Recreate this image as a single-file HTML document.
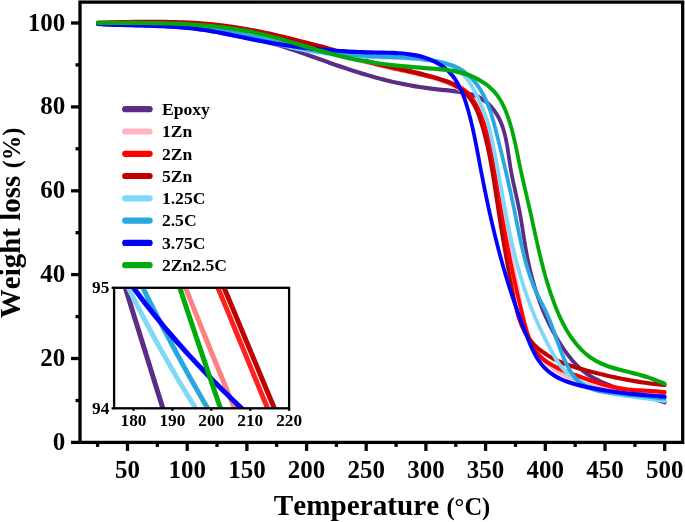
<!DOCTYPE html>
<html><head><meta charset="utf-8"><title>TGA</title>
<style>
html,body{margin:0;padding:0;background:#fff;}
body{width:685px;height:522px;position:relative;overflow:hidden;font-family:"Liberation Serif",serif;}
</style></head><body>
<svg width="685" height="522" viewBox="0 0 685 522" style="position:absolute;left:0;top:0;display:block;will-change:transform;opacity:0.999">
<rect x="0" y="0" width="685" height="522" fill="#fff"/>
<g fill="none" stroke-width="3.75" stroke-linecap="round" stroke-linejoin="round" transform="scale(1,1.12)">
<path stroke="#5B2D86" d="M97.80,21.16C98.80,21.21 101.81,21.37 103.82,21.46C105.82,21.55 107.83,21.63 109.84,21.70C111.85,21.77 113.86,21.84 115.88,21.90C117.89,21.96 119.90,22.01 121.92,22.07C123.93,22.12 125.95,22.16 127.96,22.21C129.98,22.26 131.99,22.30 134.01,22.34C136.03,22.38 138.04,22.43 140.06,22.47C142.08,22.52 144.09,22.56 146.11,22.61C148.13,22.66 150.14,22.71 152.16,22.77C154.17,22.83 156.19,22.89 158.20,22.96C160.21,23.03 162.23,23.10 164.24,23.19C166.25,23.27 168.26,23.36 170.27,23.47C172.28,23.57 174.29,23.68 176.29,23.81C178.30,23.93 180.31,24.07 182.31,24.22C184.31,24.37 186.31,24.54 188.31,24.72C190.31,24.90 192.30,25.10 194.30,25.31C196.29,25.53 198.28,25.76 200.27,26.01C202.25,26.26 204.24,26.53 206.22,26.82C208.20,27.10 210.18,27.42 212.16,27.73C214.14,28.05 216.12,28.39 218.09,28.72C220.07,29.06 222.05,29.41 224.03,29.75C226.00,30.09 227.98,30.44 229.97,30.77C231.95,31.11 233.94,31.44 235.92,31.76C237.91,32.09 239.90,32.40 241.89,32.72C243.88,33.04 245.87,33.35 247.85,33.69C249.84,34.02 251.82,34.36 253.79,34.72C255.77,35.09 257.73,35.47 259.69,35.87C261.65,36.28 263.60,36.70 265.55,37.14C267.49,37.58 269.43,38.04 271.37,38.52C273.30,38.99 275.23,39.49 277.15,39.99C279.07,40.50 280.99,41.02 282.91,41.55C284.82,42.08 286.73,42.63 288.64,43.18C290.55,43.73 292.45,44.30 294.35,44.87C296.25,45.45 298.15,46.03 300.05,46.62C301.95,47.20 303.84,47.80 305.74,48.40C307.63,49.00 309.53,49.60 311.42,50.21C313.32,50.81 315.21,51.42 317.11,52.03C319.00,52.64 320.90,53.25 322.79,53.86C324.69,54.47 326.59,55.08 328.49,55.69C330.39,56.29 332.29,56.89 334.20,57.49C336.11,58.09 338.02,58.68 339.93,59.26C341.84,59.85 343.76,60.43 345.67,61.00C347.59,61.57 349.51,62.14 351.44,62.70C353.36,63.25 355.28,63.80 357.21,64.34C359.14,64.88 361.07,65.42 363.00,65.94C364.94,66.46 366.87,66.97 368.81,67.48C370.74,67.98 372.68,68.47 374.62,68.95C376.56,69.43 378.51,69.90 380.45,70.35C382.39,70.81 384.34,71.25 386.29,71.68C388.23,72.11 390.18,72.53 392.13,72.93C394.08,73.33 396.03,73.72 397.98,74.10C399.93,74.47 401.88,74.83 403.84,75.17C405.79,75.51 407.74,75.84 409.70,76.15C411.66,76.47 413.62,76.77 415.59,77.06C417.56,77.34 419.53,77.62 421.51,77.88C423.49,78.14 425.48,78.40 427.48,78.64C429.47,78.88 431.48,79.11 433.49,79.33C435.50,79.55 437.53,79.76 439.57,79.96C441.60,80.16 443.66,80.35 445.71,80.54C447.77,80.73 449.85,80.90 451.91,81.11C453.97,81.31 456.04,81.52 458.08,81.78C460.12,82.04 462.15,82.32 464.14,82.67C466.13,83.02 468.10,83.41 470.02,83.89C471.93,84.37 473.81,84.91 475.62,85.56C477.43,86.21 479.19,86.93 480.87,87.79C482.55,88.64 484.16,89.62 485.69,90.69C487.21,91.76 488.67,92.95 490.03,94.22C491.39,95.48 492.68,96.84 493.87,98.26C495.06,99.67 496.17,101.17 497.18,102.69C498.20,104.22 499.11,105.80 499.95,107.41C500.79,109.02 501.53,110.68 502.21,112.36C502.89,114.03 503.49,115.75 504.04,117.48C504.60,119.21 505.08,120.97 505.53,122.74C505.98,124.52 506.38,126.31 506.75,128.12C507.13,129.92 507.46,131.74 507.78,133.55C508.11,135.37 508.40,137.20 508.70,139.02C509.00,140.84 509.29,142.67 509.59,144.48C509.90,146.30 510.20,148.11 510.53,149.90C510.86,151.69 511.21,153.47 511.58,155.23C511.95,157.00 512.35,158.75 512.75,160.49C513.15,162.23 513.57,163.97 514.00,165.70C514.42,167.43 514.86,169.15 515.29,170.87C515.72,172.59 516.16,174.31 516.58,176.03C517.01,177.75 517.44,179.48 517.85,181.21C518.27,182.94 518.67,184.67 519.06,186.41C519.45,188.16 519.82,189.91 520.17,191.67C520.53,193.43 520.87,195.20 521.20,196.98C521.54,198.76 521.86,200.54 522.18,202.32C522.50,204.11 522.81,205.90 523.12,207.69C523.44,209.48 523.75,211.28 524.07,213.07C524.39,214.86 524.71,216.65 525.04,218.44C525.37,220.23 525.71,222.02 526.07,223.80C526.43,225.59 526.80,227.36 527.18,229.14C527.57,230.91 527.97,232.68 528.40,234.44C528.82,236.20 529.26,237.95 529.72,239.70C530.17,241.45 530.65,243.19 531.14,244.93C531.64,246.66 532.15,248.39 532.69,250.12C533.22,251.84 533.78,253.56 534.35,255.27C534.93,256.98 535.52,258.68 536.14,260.38C536.75,262.08 537.39,263.77 538.05,265.45C538.71,267.14 539.39,268.81 540.10,270.49C540.80,272.16 541.53,273.82 542.28,275.48C543.03,277.13 543.81,278.78 544.60,280.42C545.40,282.07 546.23,283.70 547.07,285.33C547.92,286.96 548.80,288.58 549.70,290.19C550.59,291.80 551.52,293.41 552.47,295.01C553.42,296.60 554.40,298.19 555.41,299.77C556.41,301.35 557.44,302.92 558.51,304.47C559.57,306.02 560.65,307.57 561.77,309.09C562.89,310.61 564.04,312.13 565.22,313.61C566.40,315.10 567.61,316.57 568.86,317.99C570.11,319.42 571.40,320.82 572.72,322.18C574.05,323.53 575.41,324.85 576.83,326.11C578.24,327.37 579.69,328.59 581.19,329.74C582.69,330.90 584.25,331.99 585.84,333.03C587.43,334.06 589.08,335.04 590.75,335.97C592.43,336.90 594.15,337.77 595.90,338.61C597.65,339.44 599.44,340.23 601.26,340.98C603.07,341.73 604.92,342.43 606.78,343.11C608.65,343.79 610.54,344.43 612.45,345.04C614.36,345.66 616.29,346.24 618.23,346.81C620.17,347.38 622.13,347.92 624.09,348.45C626.05,348.98 628.03,349.49 630.00,349.99C631.97,350.49 633.95,350.98 635.92,351.47C637.89,351.96 639.87,352.44 641.83,352.93C643.79,353.41 645.75,353.90 647.69,354.39C649.64,354.89 651.57,355.39 653.48,355.90C655.39,356.42 657.29,356.94 659.16,357.49C661.03,358.04 663.78,358.91 664.70,359.20"/>
<path stroke="#FFB6C1" d="M97.80,20.61C98.82,20.60 101.87,20.56 103.90,20.54C105.94,20.52 107.97,20.50 110.00,20.48C112.04,20.46 114.08,20.44 116.11,20.42C118.15,20.40 120.18,20.38 122.22,20.37C124.26,20.36 126.29,20.34 128.33,20.33C130.37,20.33 132.40,20.32 134.44,20.31C136.48,20.31 138.51,20.31 140.55,20.32C142.59,20.32 144.62,20.33 146.66,20.34C148.70,20.35 150.73,20.37 152.77,20.39C154.81,20.41 156.84,20.44 158.88,20.47C160.92,20.50 162.95,20.54 164.99,20.59C167.02,20.63 169.06,20.68 171.09,20.74C173.12,20.80 175.16,20.86 177.19,20.94C179.23,21.01 181.26,21.09 183.29,21.17C185.32,21.26 187.35,21.36 189.38,21.46C191.41,21.57 193.44,21.68 195.47,21.80C197.50,21.92 199.53,22.05 201.56,22.20C203.59,22.34 205.61,22.49 207.64,22.65C209.66,22.81 211.69,22.98 213.71,23.17C215.73,23.35 217.76,23.54 219.78,23.75C221.80,23.95 223.82,24.17 225.84,24.40C227.85,24.63 229.87,24.87 231.89,25.12C233.90,25.38 235.92,25.64 237.93,25.92C239.94,26.20 241.96,26.50 243.97,26.81C245.98,27.11 247.99,27.43 249.99,27.77C251.99,28.12 253.99,28.47 255.98,28.87C257.97,29.26 259.96,29.67 261.93,30.13C263.89,30.58 265.85,31.08 267.80,31.59C269.75,32.10 271.68,32.65 273.62,33.19C275.56,33.74 277.49,34.31 279.42,34.87C281.35,35.42 283.28,35.99 285.22,36.54C287.16,37.08 289.10,37.62 291.05,38.15C292.99,38.67 294.95,39.19 296.90,39.69C298.85,40.20 300.81,40.69 302.77,41.18C304.73,41.67 306.70,42.15 308.66,42.62C310.63,43.09 312.60,43.56 314.57,44.02C316.54,44.48 318.51,44.94 320.48,45.40C322.45,45.85 324.43,46.30 326.40,46.75C328.37,47.20 330.35,47.64 332.32,48.09C334.30,48.54 336.27,48.98 338.25,49.43C340.22,49.88 342.19,50.33 344.16,50.77C346.14,51.22 348.11,51.66 350.08,52.11C352.06,52.55 354.03,53.00 356.00,53.44C357.97,53.88 359.95,54.32 361.92,54.76C363.90,55.20 365.87,55.63 367.85,56.07C369.82,56.50 371.80,56.93 373.77,57.35C375.75,57.78 377.73,58.20 379.71,58.62C381.69,59.04 383.67,59.45 385.65,59.86C387.63,60.27 389.61,60.68 391.60,61.07C393.58,61.47 395.57,61.87 397.56,62.26C399.55,62.64 401.54,63.02 403.53,63.40C405.52,63.78 407.52,64.15 409.51,64.54C411.50,64.92 413.49,65.30 415.48,65.69C417.47,66.09 419.46,66.49 421.44,66.92C423.42,67.34 425.40,67.78 427.37,68.24C429.34,68.71 431.31,69.19 433.27,69.72C435.23,70.24 437.18,70.78 439.12,71.37C441.06,71.96 443.00,72.57 444.91,73.25C446.81,73.92 448.72,74.63 450.56,75.40C452.40,76.18 454.22,77.00 455.96,77.90C457.70,78.80 459.40,79.76 461.00,80.81C462.61,81.86 464.15,82.97 465.58,84.19C467.00,85.40 468.34,86.71 469.57,88.10C470.80,89.49 471.92,90.99 472.97,92.54C474.02,94.08 474.97,95.71 475.89,97.36C476.80,99.01 477.63,100.73 478.44,102.44C479.25,104.16 480.00,105.91 480.75,107.64C481.51,109.37 482.24,111.11 482.95,112.83C483.66,114.55 484.36,116.26 485.02,117.97C485.68,119.69 486.31,121.40 486.90,123.12C487.49,124.84 488.03,126.56 488.56,128.29C489.08,130.02 489.56,131.75 490.03,133.49C490.50,135.23 490.93,136.98 491.36,138.73C491.79,140.48 492.19,142.24 492.59,144.01C492.99,145.77 493.38,147.54 493.76,149.32C494.15,151.10 494.53,152.89 494.91,154.68C495.29,156.47 495.67,158.27 496.05,160.08C496.43,161.88 496.81,163.69 497.19,165.50C497.57,167.30 497.95,169.12 498.33,170.93C498.71,172.74 499.09,174.55 499.47,176.36C499.85,178.17 500.24,179.97 500.62,181.78C501.01,183.58 501.39,185.38 501.78,187.17C502.17,188.96 502.56,190.75 502.95,192.53C503.35,194.31 503.74,196.08 504.14,197.85C504.53,199.63 504.93,201.39 505.33,203.15C505.73,204.92 506.13,206.68 506.53,208.43C506.94,210.19 507.34,211.95 507.74,213.70C508.15,215.46 508.55,217.21 508.95,218.96C509.36,220.71 509.76,222.47 510.17,224.22C510.57,225.97 510.97,227.73 511.38,229.48C511.78,231.24 512.19,233.00 512.59,234.76C512.99,236.52 513.39,238.29 513.79,240.06C514.19,241.82 514.59,243.60 514.99,245.38C515.38,247.15 515.78,248.94 516.17,250.73C516.57,252.52 516.96,254.31 517.35,256.11C517.74,257.92 518.12,259.73 518.51,261.55C518.89,263.36 519.27,265.19 519.66,267.03C520.04,268.86 520.42,270.70 520.82,272.53C521.22,274.37 521.62,276.21 522.05,278.04C522.48,279.87 522.92,281.69 523.39,283.51C523.86,285.32 524.36,287.12 524.89,288.90C525.43,290.68 525.99,292.45 526.60,294.20C527.21,295.94 527.86,297.66 528.56,299.35C529.27,301.04 530.02,302.71 530.83,304.34C531.64,305.97 532.51,307.57 533.45,309.12C534.39,310.68 535.39,312.20 536.47,313.67C537.55,315.14 538.69,316.57 539.93,317.95C541.17,319.33 542.48,320.65 543.89,321.93C545.29,323.20 546.79,324.42 548.34,325.58C549.89,326.75 551.53,327.86 553.20,328.93C554.87,329.99 556.61,331.00 558.37,331.97C560.13,332.93 561.95,333.85 563.77,334.72C565.58,335.59 567.43,336.41 569.29,337.19C571.15,337.97 573.02,338.70 574.91,339.39C576.79,340.09 578.69,340.74 580.61,341.35C582.52,341.97 584.45,342.54 586.39,343.09C588.32,343.63 590.27,344.14 592.23,344.61C594.19,345.09 596.16,345.54 598.14,345.95C600.12,346.37 602.10,346.76 604.10,347.12C606.09,347.49 608.09,347.83 610.10,348.15C612.10,348.46 614.12,348.76 616.13,349.04C618.15,349.31 620.17,349.57 622.20,349.82C624.22,350.06 626.25,350.29 628.28,350.50C630.31,350.72 632.34,350.92 634.37,351.12C636.40,351.31 638.44,351.49 640.47,351.67C642.50,351.85 644.53,352.03 646.55,352.20C648.58,352.37 650.61,352.54 652.63,352.71C654.65,352.88 656.67,353.04 658.68,353.22C660.69,353.39 663.70,353.66 664.70,353.75"/>
<path stroke="#FF0000" d="M97.80,20.80C98.81,20.78 101.86,20.71 103.89,20.66C105.92,20.61 107.95,20.57 109.98,20.53C112.02,20.48 114.05,20.44 116.08,20.40C118.12,20.36 120.15,20.32 122.19,20.29C124.23,20.25 126.26,20.22 128.30,20.20C130.34,20.17 132.37,20.14 134.41,20.12C136.45,20.10 138.49,20.08 140.53,20.07C142.57,20.06 144.61,20.05 146.64,20.05C148.68,20.05 150.72,20.05 152.76,20.06C154.80,20.07 156.84,20.08 158.88,20.10C160.92,20.12 162.96,20.15 165.00,20.18C167.03,20.21 169.07,20.25 171.11,20.30C173.15,20.35 175.19,20.40 177.22,20.47C179.26,20.53 181.29,20.60 183.33,20.68C185.37,20.76 187.40,20.84 189.43,20.94C191.47,21.04 193.50,21.14 195.53,21.26C197.56,21.37 199.59,21.50 201.62,21.63C203.65,21.77 205.68,21.91 207.71,22.07C209.73,22.22 211.76,22.39 213.78,22.57C215.81,22.74 217.83,22.93 219.85,23.13C221.87,23.33 223.89,23.55 225.91,23.77C227.93,24.00 229.94,24.23 231.95,24.48C233.97,24.73 235.98,25.00 237.99,25.27C240.00,25.55 242.01,25.84 244.01,26.14C246.02,26.45 248.02,26.77 250.02,27.10C252.02,27.43 254.02,27.78 256.02,28.14C258.01,28.50 260.01,28.88 262.00,29.27C263.99,29.66 265.98,30.06 267.97,30.47C269.95,30.88 271.94,31.31 273.92,31.73C275.91,32.16 277.89,32.60 279.87,33.04C281.85,33.49 283.83,33.94 285.80,34.39C287.78,34.84 289.75,35.29 291.73,35.75C293.70,36.20 295.68,36.66 297.65,37.11C299.62,37.57 301.59,38.02 303.56,38.47C305.53,38.92 307.50,39.36 309.47,39.80C311.44,40.24 313.41,40.67 315.38,41.11C317.34,41.55 319.31,41.98 321.27,42.44C323.23,42.90 325.19,43.36 327.14,43.86C329.09,44.35 331.03,44.88 332.97,45.42C334.92,45.97 336.85,46.55 338.78,47.12C340.72,47.70 342.65,48.30 344.58,48.88C346.52,49.46 348.45,50.04 350.39,50.60C352.33,51.16 354.27,51.71 356.21,52.24C358.16,52.76 360.11,53.27 362.06,53.77C364.01,54.27 365.97,54.75 367.93,55.22C369.88,55.69 371.85,56.14 373.81,56.59C375.77,57.04 377.74,57.47 379.71,57.90C381.68,58.33 383.65,58.75 385.63,59.17C387.60,59.58 389.58,59.99 391.56,60.40C393.54,60.80 395.52,61.20 397.50,61.60C399.48,62.00 401.47,62.40 403.45,62.80C405.44,63.19 407.43,63.59 409.41,63.99C411.40,64.39 413.39,64.79 415.38,65.20C417.37,65.60 419.37,66.01 421.36,66.43C423.35,66.84 425.35,67.26 427.34,67.70C429.33,68.13 431.32,68.57 433.31,69.04C435.29,69.51 437.27,69.99 439.24,70.51C441.20,71.03 443.16,71.57 445.10,72.17C447.03,72.76 448.96,73.39 450.85,74.08C452.75,74.76 454.64,75.49 456.46,76.30C458.28,77.11 460.07,77.98 461.75,78.95C463.44,79.93 465.06,80.98 466.54,82.15C468.03,83.33 469.39,84.63 470.65,86.01C471.91,87.40 473.03,88.91 474.10,90.44C475.16,91.97 476.13,93.59 477.06,95.19C477.98,96.80 478.85,98.44 479.67,100.08C480.49,101.73 481.25,103.40 481.97,105.09C482.70,106.77 483.37,108.47 484.01,110.19C484.64,111.90 485.24,113.63 485.80,115.37C486.36,117.12 486.88,118.87 487.38,120.63C487.88,122.40 488.34,124.17 488.78,125.95C489.23,127.73 489.64,129.53 490.04,131.32C490.45,133.11 490.82,134.92 491.19,136.72C491.56,138.52 491.91,140.33 492.26,142.14C492.61,143.95 492.94,145.76 493.28,147.57C493.61,149.38 493.94,151.19 494.28,153.00C494.61,154.81 494.95,156.61 495.28,158.42C495.62,160.22 495.95,162.02 496.29,163.82C496.62,165.62 496.96,167.42 497.30,169.22C497.64,171.01 497.98,172.81 498.32,174.60C498.66,176.40 499.00,178.19 499.35,179.98C499.69,181.77 500.03,183.56 500.38,185.35C500.73,187.14 501.08,188.93 501.43,190.71C501.78,192.50 502.14,194.28 502.49,196.07C502.85,197.85 503.21,199.64 503.57,201.42C503.93,203.20 504.29,204.98 504.66,206.76C505.03,208.54 505.40,210.32 505.77,212.10C506.14,213.88 506.52,215.66 506.90,217.44C507.28,219.22 507.66,220.99 508.05,222.77C508.44,224.55 508.83,226.32 509.22,228.10C509.62,229.88 510.01,231.65 510.42,233.43C510.82,235.20 511.22,236.98 511.64,238.75C512.05,240.53 512.46,242.30 512.88,244.08C513.30,245.85 513.73,247.63 514.16,249.40C514.59,251.18 515.02,252.95 515.46,254.73C515.90,256.51 516.35,258.28 516.80,260.06C517.25,261.83 517.70,263.61 518.17,265.39C518.63,267.16 519.10,268.94 519.57,270.72C520.04,272.49 520.52,274.27 521.01,276.05C521.49,277.83 521.98,279.61 522.48,281.39C522.98,283.17 523.48,284.95 524.00,286.73C524.51,288.51 525.02,290.30 525.56,292.07C526.11,293.84 526.66,295.61 527.28,297.35C527.90,299.09 528.54,300.81 529.27,302.49C530.00,304.16 530.78,305.82 531.66,307.41C532.55,309.00 533.50,310.56 534.59,312.04C535.67,313.51 536.85,314.94 538.16,316.29C539.48,317.63 540.94,318.90 542.48,320.09C544.02,321.29 545.69,322.40 547.38,323.43C549.07,324.47 550.84,325.41 552.63,326.31C554.42,327.20 556.27,328.01 558.13,328.79C559.99,329.58 561.90,330.29 563.81,330.99C565.72,331.70 567.65,332.35 569.58,333.00C571.51,333.66 573.45,334.29 575.38,334.92C577.31,335.55 579.23,336.18 581.15,336.80C583.08,337.42 584.99,338.03 586.91,338.63C588.83,339.22 590.75,339.81 592.67,340.38C594.59,340.94 596.51,341.50 598.44,342.03C600.36,342.55 602.29,343.06 604.23,343.54C606.17,344.02 608.12,344.48 610.08,344.90C612.03,345.32 614.00,345.72 615.98,346.07C617.96,346.43 619.95,346.75 621.95,347.03C623.96,347.31 625.98,347.55 628.02,347.76C630.05,347.96 632.11,348.12 634.16,348.26C636.22,348.40 638.29,348.51 640.35,348.61C642.41,348.72 644.48,348.80 646.54,348.90C648.60,349.00 650.66,349.08 652.69,349.20C654.73,349.32 656.76,349.44 658.76,349.60C660.76,349.76 663.71,350.08 664.70,350.18"/>
<path stroke="#C00000" d="M97.80,20.18C98.81,20.16 101.84,20.12 103.85,20.08C105.87,20.05 107.89,20.02 109.91,19.98C111.93,19.95 113.95,19.91 115.97,19.88C117.99,19.85 120.01,19.81 122.03,19.78C124.05,19.75 126.07,19.71 128.09,19.69C130.11,19.66 132.13,19.63 134.15,19.60C136.17,19.58 138.19,19.56 140.21,19.54C142.23,19.52 144.25,19.51 146.27,19.50C148.29,19.49 150.31,19.48 152.33,19.48C154.35,19.48 156.36,19.49 158.38,19.50C160.40,19.51 162.42,19.52 164.44,19.55C166.46,19.57 168.48,19.60 170.50,19.64C172.51,19.68 174.53,19.72 176.55,19.78C178.57,19.83 180.58,19.89 182.60,19.97C184.61,20.04 186.63,20.12 188.65,20.21C190.66,20.30 192.67,20.40 194.69,20.51C196.70,20.62 198.72,20.74 200.73,20.88C202.74,21.01 204.75,21.16 206.76,21.32C208.77,21.47 210.79,21.64 212.79,21.82C214.80,22.00 216.81,22.20 218.82,22.40C220.83,22.61 222.83,22.82 224.83,23.05C226.84,23.28 228.84,23.52 230.84,23.77C232.84,24.03 234.84,24.29 236.84,24.56C238.83,24.84 240.83,25.12 242.82,25.42C244.81,25.72 246.80,26.03 248.79,26.35C250.78,26.67 252.76,27.00 254.75,27.34C256.73,27.69 258.71,28.04 260.69,28.40C262.66,28.77 264.64,29.14 266.61,29.52C268.58,29.90 270.55,30.30 272.52,30.69C274.49,31.09 276.46,31.50 278.42,31.91C280.39,32.32 282.35,32.74 284.31,33.16C286.28,33.58 288.24,34.01 290.20,34.44C292.16,34.87 294.12,35.30 296.08,35.73C298.03,36.17 299.99,36.61 301.95,37.04C303.91,37.48 305.86,37.92 307.82,38.36C309.78,38.79 311.74,39.23 313.69,39.67C315.65,40.11 317.61,40.55 319.55,41.01C321.50,41.47 323.45,41.94 325.38,42.43C327.31,42.93 329.24,43.45 331.16,44.00C333.07,44.55 334.97,45.13 336.87,45.72C338.78,46.31 340.67,46.92 342.57,47.52C344.47,48.12 346.36,48.73 348.27,49.32C350.17,49.90 352.09,50.48 354.01,51.04C355.93,51.59 357.86,52.13 359.79,52.65C361.73,53.17 363.67,53.67 365.61,54.16C367.56,54.65 369.51,55.12 371.46,55.57C373.42,56.03 375.37,56.47 377.33,56.90C379.29,57.33 381.25,57.75 383.21,58.16C385.17,58.57 387.14,58.96 389.10,59.36C391.06,59.75 393.03,60.14 394.99,60.53C396.96,60.92 398.92,61.30 400.89,61.69C402.86,62.08 404.82,62.47 406.79,62.86C408.75,63.26 410.72,63.66 412.68,64.07C414.64,64.48 416.60,64.89 418.56,65.33C420.53,65.76 422.48,66.20 424.44,66.67C426.40,67.13 428.35,67.60 430.31,68.10C432.26,68.60 434.21,69.12 436.15,69.66C438.10,70.20 440.05,70.76 441.98,71.36C443.92,71.95 445.86,72.57 447.75,73.25C449.64,73.93 451.52,74.65 453.32,75.46C455.11,76.26 456.88,77.13 458.54,78.10C460.20,79.08 461.79,80.15 463.28,81.30C464.77,82.46 466.17,83.72 467.49,85.04C468.81,86.36 470.04,87.77 471.18,89.23C472.32,90.69 473.37,92.23 474.33,93.80C475.30,95.37 476.16,97.00 476.96,98.65C477.76,100.31 478.46,102.01 479.14,103.72C479.82,105.43 480.43,107.17 481.03,108.90C481.63,110.64 482.20,112.38 482.76,114.13C483.31,115.87 483.84,117.62 484.36,119.37C484.88,121.12 485.37,122.88 485.85,124.64C486.33,126.40 486.79,128.16 487.24,129.93C487.68,131.69 488.11,133.46 488.53,135.23C488.94,137.00 489.34,138.77 489.73,140.55C490.13,142.32 490.50,144.10 490.87,145.87C491.24,147.65 491.59,149.43 491.94,151.21C492.29,152.99 492.62,154.77 492.96,156.55C493.29,158.33 493.61,160.12 493.93,161.90C494.25,163.68 494.56,165.46 494.87,167.25C495.18,169.03 495.48,170.81 495.78,172.59C496.09,174.37 496.39,176.15 496.69,177.93C496.99,179.71 497.29,181.49 497.59,183.27C497.89,185.05 498.19,186.82 498.50,188.60C498.80,190.37 499.11,192.14 499.42,193.91C499.73,195.68 500.04,197.45 500.36,199.22C500.68,200.99 501.00,202.76 501.32,204.52C501.64,206.29 501.97,208.05 502.29,209.82C502.62,211.59 502.95,213.35 503.29,215.12C503.63,216.88 503.96,218.65 504.31,220.42C504.65,222.18 504.99,223.95 505.34,225.72C505.69,227.49 506.05,229.26 506.40,231.03C506.76,232.80 507.12,234.57 507.49,236.34C507.85,238.12 508.22,239.89 508.59,241.67C508.97,243.45 509.34,245.23 509.72,247.01C510.11,248.79 510.49,250.58 510.88,252.37C511.27,254.16 511.67,255.95 512.07,257.74C512.47,259.54 512.87,261.33 513.28,263.13C513.69,264.94 514.10,266.75 514.53,268.55C514.96,270.35 515.40,272.15 515.87,273.94C516.35,275.72 516.84,277.51 517.38,279.26C517.92,281.02 518.49,282.76 519.12,284.48C519.75,286.19 520.42,287.88 521.17,289.54C521.91,291.19 522.71,292.82 523.59,294.39C524.47,295.97 525.41,297.52 526.45,299.00C527.49,300.49 528.61,301.94 529.82,303.32C531.03,304.71 532.34,306.04 533.71,307.32C535.09,308.60 536.55,309.83 538.06,311.00C539.57,312.17 541.16,313.29 542.79,314.35C544.42,315.42 546.11,316.42 547.83,317.38C549.55,318.33 551.32,319.23 553.11,320.07C554.90,320.92 556.72,321.70 558.57,322.44C560.41,323.19 562.28,323.87 564.17,324.53C566.06,325.19 567.97,325.79 569.89,326.38C571.81,326.97 573.74,327.51 575.68,328.05C577.63,328.58 579.58,329.08 581.53,329.57C583.49,330.06 585.45,330.54 587.41,331.00C589.37,331.47 591.33,331.93 593.28,332.38C595.24,332.83 597.20,333.27 599.16,333.70C601.12,334.13 603.08,334.55 605.05,334.96C607.01,335.37 608.97,335.77 610.94,336.16C612.90,336.55 614.87,336.93 616.84,337.29C618.81,337.66 620.78,338.02 622.75,338.36C624.73,338.70 626.70,339.04 628.68,339.36C630.66,339.68 632.64,339.99 634.63,340.28C636.61,340.58 638.60,340.87 640.59,341.14C642.58,341.41 644.58,341.67 646.58,341.91C648.58,342.16 650.58,342.39 652.59,342.61C654.60,342.83 656.61,343.03 658.63,343.22C660.65,343.41 663.69,343.66 664.70,343.75"/>
<path stroke="#7FD8F8" d="M97.80,21.23C98.83,21.26 101.90,21.36 103.96,21.41C106.01,21.47 108.06,21.52 110.12,21.57C112.17,21.62 114.23,21.67 116.28,21.71C118.33,21.76 120.39,21.80 122.44,21.85C124.50,21.89 126.55,21.93 128.61,21.98C130.66,22.02 132.72,22.07 134.77,22.11C136.83,22.16 138.88,22.21 140.94,22.26C142.99,22.31 145.05,22.37 147.10,22.43C149.15,22.48 151.21,22.55 153.26,22.61C155.31,22.68 157.36,22.75 159.42,22.83C161.47,22.91 163.52,23.00 165.57,23.09C167.62,23.18 169.67,23.28 171.72,23.39C173.77,23.50 175.81,23.61 177.86,23.74C179.91,23.87 181.95,24.00 184.00,24.15C186.04,24.29 188.09,24.45 190.13,24.62C192.17,24.79 194.21,24.97 196.25,25.16C198.29,25.35 200.33,25.56 202.37,25.78C204.41,26.00 206.44,26.23 208.48,26.48C210.51,26.73 212.54,26.99 214.57,27.27C216.60,27.54 218.63,27.83 220.66,28.13C222.69,28.43 224.71,28.74 226.73,29.07C228.76,29.39 230.78,29.73 232.80,30.08C234.82,30.42 236.83,30.78 238.85,31.15C240.86,31.52 242.87,31.90 244.88,32.30C246.89,32.69 248.90,33.09 250.90,33.50C252.90,33.91 254.91,34.33 256.90,34.75C258.90,35.18 260.90,35.62 262.89,36.06C264.89,36.50 266.88,36.94 268.87,37.39C270.87,37.83 272.86,38.28 274.85,38.73C276.84,39.17 278.83,39.62 280.82,40.05C282.82,40.49 284.81,40.92 286.81,41.34C288.80,41.77 290.80,42.18 292.80,42.58C294.80,42.98 296.80,43.38 298.80,43.75C300.81,44.12 302.82,44.48 304.83,44.82C306.85,45.17 308.86,45.49 310.88,45.80C312.90,46.11 314.93,46.40 316.95,46.68C318.98,46.95 321.01,47.21 323.04,47.46C325.08,47.71 327.11,47.94 329.15,48.16C331.19,48.38 333.23,48.58 335.27,48.77C337.31,48.96 339.36,49.14 341.41,49.31C343.45,49.47 345.50,49.63 347.55,49.77C349.60,49.91 351.66,50.04 353.71,50.16C355.76,50.27 357.82,50.38 359.87,50.48C361.93,50.57 363.99,50.66 366.04,50.74C368.10,50.81 370.16,50.88 372.22,50.94C374.28,51.00 376.34,51.04 378.40,51.09C380.45,51.13 382.51,51.16 384.57,51.20C386.63,51.24 388.69,51.27 390.75,51.31C392.80,51.35 394.86,51.38 396.92,51.44C398.97,51.49 401.02,51.54 403.08,51.62C405.13,51.69 407.18,51.77 409.23,51.88C411.28,51.98 413.32,52.10 415.37,52.25C417.41,52.39 419.45,52.56 421.49,52.76C423.53,52.95 425.56,53.17 427.59,53.43C429.62,53.69 431.65,53.98 433.67,54.31C435.70,54.63 437.73,54.98 439.73,55.40C441.74,55.82 443.76,56.25 445.72,56.82C447.67,57.39 449.61,58.03 451.44,58.81C453.27,59.59 455.05,60.51 456.71,61.53C458.37,62.55 459.92,63.69 461.39,64.92C462.85,66.14 464.21,67.48 465.51,68.87C466.81,70.27 468.01,71.75 469.16,73.28C470.32,74.80 471.39,76.40 472.43,78.02C473.47,79.63 474.44,81.30 475.39,82.97C476.34,84.63 477.25,86.34 478.13,88.02C479.02,89.70 479.89,91.39 480.73,93.07C481.56,94.75 482.38,96.43 483.15,98.11C483.93,99.80 484.67,101.48 485.37,103.19C486.07,104.89 486.73,106.59 487.34,108.32C487.95,110.05 488.50,111.80 489.01,113.56C489.53,115.32 489.97,117.10 490.43,118.88C490.88,120.66 491.31,122.45 491.74,124.24C492.17,126.03 492.59,127.82 493.01,129.61C493.42,131.41 493.83,133.20 494.23,135.00C494.64,136.79 495.03,138.59 495.42,140.39C495.82,142.19 496.20,143.99 496.58,145.80C496.97,147.60 497.35,149.40 497.72,151.20C498.10,153.01 498.47,154.81 498.84,156.62C499.21,158.43 499.58,160.23 499.95,162.04C500.32,163.85 500.69,165.65 501.05,167.46C501.42,169.27 501.79,171.08 502.16,172.88C502.53,174.69 502.89,176.50 503.27,178.31C503.64,180.11 504.01,181.92 504.39,183.72C504.77,185.53 505.15,187.34 505.53,189.14C505.92,190.95 506.30,192.75 506.70,194.55C507.09,196.35 507.49,198.16 507.89,199.96C508.30,201.76 508.71,203.55 509.12,205.35C509.54,207.15 509.97,208.94 510.40,210.74C510.83,212.53 511.27,214.32 511.72,216.11C512.17,217.90 512.63,219.69 513.10,221.47C513.57,223.26 514.05,225.04 514.54,226.82C515.03,228.60 515.53,230.38 516.04,232.15C516.56,233.93 517.08,235.70 517.62,237.47C518.15,239.23 518.70,241.00 519.27,242.76C519.83,244.52 520.40,246.28 520.99,248.03C521.58,249.79 522.18,251.54 522.80,253.28C523.42,255.03 524.05,256.77 524.69,258.51C525.34,260.25 526.00,261.98 526.68,263.71C527.35,265.44 528.05,267.16 528.75,268.88C529.46,270.60 530.19,272.31 530.93,274.02C531.67,275.73 532.43,277.43 533.20,279.13C533.98,280.83 534.77,282.52 535.58,284.21C536.39,285.89 537.22,287.57 538.06,289.25C538.91,290.92 539.77,292.59 540.64,294.26C541.52,295.92 542.41,297.58 543.32,299.23C544.22,300.88 545.14,302.53 546.07,304.17C547.00,305.81 547.95,307.44 548.90,309.07C549.86,310.69 550.82,312.32 551.80,313.93C552.78,315.54 553.75,317.17 554.79,318.75C555.82,320.33 556.86,321.90 558.02,323.41C559.17,324.91 560.39,326.38 561.71,327.78C563.04,329.17 564.47,330.50 565.96,331.77C567.45,333.03 569.03,334.24 570.65,335.37C572.27,336.51 573.97,337.58 575.69,338.59C577.41,339.60 579.18,340.54 580.98,341.42C582.77,342.30 584.59,343.11 586.44,343.87C588.29,344.63 590.17,345.33 592.07,345.98C593.97,346.64 595.90,347.24 597.84,347.80C599.78,348.36 601.75,348.87 603.73,349.35C605.71,349.82 607.71,350.26 609.72,350.66C611.73,351.07 613.75,351.44 615.79,351.79C617.82,352.13 619.86,352.45 621.91,352.75C623.96,353.05 626.02,353.32 628.08,353.59C630.14,353.86 632.20,354.10 634.26,354.34C636.32,354.58 638.38,354.81 640.44,355.04C642.49,355.27 644.55,355.50 646.59,355.73C648.64,355.96 650.68,356.19 652.70,356.43C654.73,356.67 656.74,356.92 658.74,357.19C660.74,357.46 663.71,357.89 664.70,358.04"/>
<path stroke="#29A8E0" d="M97.80,21.04C98.83,21.06 101.90,21.14 103.96,21.18C106.01,21.23 108.06,21.27 110.12,21.31C112.17,21.35 114.22,21.38 116.28,21.42C118.33,21.45 120.39,21.49 122.44,21.52C124.50,21.55 126.55,21.59 128.61,21.62C130.66,21.65 132.72,21.69 134.77,21.72C136.83,21.76 138.88,21.80 140.94,21.84C142.99,21.88 145.05,21.92 147.10,21.97C149.16,22.01 151.21,22.06 153.27,22.12C155.32,22.18 157.37,22.24 159.43,22.30C161.48,22.37 163.53,22.44 165.58,22.52C167.64,22.60 169.69,22.69 171.74,22.79C173.79,22.88 175.84,22.98 177.89,23.10C179.93,23.21 181.98,23.33 184.03,23.46C186.08,23.60 188.12,23.74 190.17,23.89C192.21,24.05 194.25,24.21 196.29,24.39C198.34,24.57 200.38,24.76 202.42,24.96C204.46,25.17 206.49,25.38 208.53,25.62C210.57,25.85 212.60,26.09 214.64,26.35C216.67,26.61 218.70,26.88 220.73,27.16C222.76,27.45 224.79,27.74 226.81,28.05C228.84,28.36 230.86,28.68 232.88,29.01C234.90,29.35 236.92,29.69 238.94,30.05C240.96,30.40 242.97,30.77 244.98,31.15C246.99,31.53 249.00,31.92 251.01,32.32C253.02,32.71 255.02,33.13 257.02,33.55C259.02,33.96 261.02,34.40 263.02,34.83C265.01,35.26 267.01,35.71 269.00,36.15C271.00,36.59 272.99,37.04 274.98,37.48C276.98,37.92 278.97,38.37 280.96,38.81C282.95,39.25 284.95,39.68 286.94,40.11C288.94,40.54 290.93,40.96 292.93,41.37C294.93,41.78 296.93,42.18 298.94,42.56C300.94,42.94 302.95,43.31 304.96,43.66C306.97,44.02 308.98,44.35 311.00,44.67C313.02,44.99 315.04,45.28 317.06,45.57C319.09,45.85 321.12,46.12 323.15,46.38C325.18,46.63 327.21,46.87 329.25,47.09C331.28,47.32 333.32,47.53 335.36,47.73C337.40,47.93 339.45,48.11 341.49,48.29C343.54,48.46 345.59,48.62 347.63,48.78C349.68,48.93 351.73,49.07 353.79,49.20C355.84,49.33 357.89,49.46 359.94,49.57C362.00,49.68 364.05,49.79 366.11,49.89C368.16,49.98 370.22,50.07 372.28,50.16C374.33,50.24 376.39,50.32 378.45,50.39C380.51,50.46 382.56,50.53 384.62,50.60C386.68,50.67 388.73,50.74 390.79,50.81C392.84,50.89 394.90,50.96 396.95,51.05C399.00,51.14 401.06,51.23 403.11,51.33C405.16,51.44 407.21,51.56 409.26,51.69C411.30,51.83 413.35,51.98 415.39,52.15C417.44,52.32 419.48,52.51 421.52,52.72C423.56,52.94 425.59,53.18 427.63,53.44C429.66,53.71 431.69,54.01 433.72,54.33C435.74,54.66 437.77,55.02 439.79,55.41C441.80,55.81 443.83,56.23 445.82,56.72C447.81,57.21 449.80,57.74 451.72,58.36C453.64,58.98 455.54,59.66 457.36,60.45C459.18,61.24 460.94,62.12 462.62,63.10C464.30,64.08 465.91,65.18 467.44,66.34C468.98,67.50 470.45,68.76 471.85,70.08C473.25,71.40 474.58,72.80 475.84,74.24C477.10,75.69 478.30,77.21 479.43,78.75C480.56,80.30 481.63,81.91 482.63,83.53C483.64,85.15 484.58,86.82 485.46,88.49C486.34,90.17 487.16,91.87 487.93,93.57C488.70,95.28 489.41,97.01 490.09,98.74C490.77,100.48 491.40,102.23 492.00,103.98C492.61,105.74 493.17,107.51 493.73,109.28C494.28,111.05 494.80,112.82 495.32,114.60C495.83,116.38 496.33,118.16 496.83,119.94C497.33,121.72 497.83,123.51 498.33,125.29C498.82,127.07 499.31,128.85 499.80,130.63C500.29,132.41 500.78,134.19 501.27,135.97C501.75,137.75 502.23,139.53 502.71,141.31C503.19,143.09 503.66,144.87 504.14,146.65C504.61,148.43 505.08,150.21 505.54,152.00C506.01,153.78 506.47,155.56 506.93,157.35C507.39,159.13 507.84,160.91 508.29,162.70C508.75,164.48 509.19,166.27 509.64,168.06C510.08,169.84 510.52,171.63 510.95,173.42C511.39,175.21 511.82,177.00 512.24,178.79C512.67,180.59 513.09,182.38 513.51,184.17C513.93,185.97 514.34,187.77 514.75,189.57C515.16,191.36 515.56,193.16 515.96,194.96C516.37,196.76 516.77,198.57 517.17,200.37C517.58,202.17 517.98,203.97 518.40,205.77C518.81,207.57 519.23,209.38 519.65,211.18C520.08,212.98 520.51,214.78 520.95,216.57C521.40,218.37 521.85,220.17 522.32,221.96C522.79,223.75 523.27,225.54 523.77,227.33C524.27,229.12 524.78,230.91 525.31,232.69C525.85,234.47 526.40,236.24 526.98,238.01C527.56,239.78 528.16,241.54 528.78,243.29C529.41,245.04 530.06,246.78 530.74,248.51C531.42,250.24 532.13,251.96 532.87,253.66C533.61,255.36 534.39,257.06 535.20,258.73C536.01,260.40 536.85,262.06 537.73,263.70C538.61,265.35 539.54,266.96 540.46,268.59C541.38,270.21 542.34,271.82 543.26,273.45C544.18,275.07 545.10,276.70 545.97,278.35C546.84,280.01 547.67,281.68 548.48,283.37C549.28,285.06 550.04,286.77 550.78,288.49C551.53,290.21 552.24,291.95 552.96,293.69C553.67,295.43 554.35,297.18 555.05,298.93C555.74,300.68 556.42,302.44 557.12,304.18C557.82,305.93 558.51,307.68 559.23,309.42C559.95,311.16 560.67,312.90 561.43,314.62C562.20,316.33 562.97,318.04 563.80,319.73C564.62,321.42 565.47,323.09 566.37,324.74C567.28,326.39 568.21,328.03 569.22,329.60C570.24,331.18 571.29,332.74 572.45,334.20C573.61,335.66 574.83,337.07 576.17,338.35C577.51,339.63 578.95,340.83 580.51,341.89C582.06,342.95 583.75,343.88 585.50,344.72C587.25,345.55 589.12,346.27 591.02,346.90C592.93,347.54 594.92,348.07 596.93,348.55C598.94,349.02 601.01,349.40 603.08,349.74C605.15,350.08 607.25,350.35 609.35,350.60C611.44,350.85 613.56,351.04 615.66,351.24C617.75,351.44 619.85,351.61 621.92,351.79C624.00,351.98 626.05,352.16 628.10,352.34C630.15,352.52 632.18,352.71 634.21,352.89C636.24,353.07 638.26,353.26 640.28,353.45C642.30,353.63 644.31,353.82 646.33,354.01C648.36,354.20 650.37,354.39 652.41,354.59C654.44,354.79 656.47,354.98 658.52,355.19C660.57,355.39 663.67,355.70 664.70,355.80"/>
<path stroke="#0000FF" d="M97.80,21.43C98.83,21.48 101.92,21.63 103.98,21.72C106.04,21.81 108.11,21.89 110.17,21.97C112.23,22.04 114.29,22.11 116.35,22.17C118.41,22.23 120.47,22.29 122.54,22.34C124.60,22.39 126.66,22.44 128.72,22.49C130.78,22.54 132.84,22.58 134.90,22.63C136.96,22.68 139.02,22.72 141.08,22.77C143.14,22.82 145.20,22.87 147.26,22.92C149.32,22.98 151.38,23.04 153.44,23.10C155.49,23.16 157.55,23.23 159.61,23.31C161.66,23.38 163.72,23.46 165.77,23.55C167.83,23.65 169.88,23.75 171.93,23.86C173.98,23.97 176.04,24.09 178.09,24.22C180.14,24.36 182.19,24.50 184.23,24.66C186.28,24.82 188.33,25.00 190.37,25.19C192.42,25.38 194.46,25.58 196.50,25.81C198.55,26.03 200.59,26.27 202.63,26.53C204.67,26.79 206.70,27.07 208.74,27.37C210.77,27.67 212.81,27.98 214.84,28.31C216.88,28.64 218.91,28.98 220.94,29.34C222.97,29.69 225.00,30.05 227.03,30.42C229.05,30.79 231.08,31.17 233.11,31.55C235.13,31.93 237.16,32.31 239.18,32.69C241.21,33.07 243.23,33.46 245.26,33.84C247.28,34.21 249.30,34.59 251.33,34.96C253.35,35.33 255.37,35.69 257.40,36.04C259.42,36.39 261.44,36.73 263.46,37.07C265.48,37.40 267.51,37.72 269.53,38.04C271.55,38.35 273.57,38.66 275.60,38.95C277.62,39.25 279.64,39.54 281.67,39.82C283.69,40.10 285.72,40.37 287.75,40.63C289.77,40.89 291.80,41.15 293.83,41.39C295.85,41.64 297.88,41.87 299.91,42.10C301.94,42.33 303.98,42.55 306.01,42.76C308.04,42.97 310.08,43.17 312.11,43.37C314.15,43.56 316.19,43.75 318.23,43.93C320.27,44.11 322.31,44.28 324.36,44.44C326.40,44.60 328.45,44.76 330.50,44.90C332.55,45.05 334.60,45.19 336.65,45.32C338.71,45.45 340.76,45.57 342.82,45.69C344.88,45.80 346.94,45.91 349.01,46.01C351.07,46.11 353.14,46.20 355.21,46.29C357.29,46.37 359.36,46.45 361.44,46.52C363.52,46.59 365.60,46.65 367.68,46.71C369.77,46.77 371.86,46.81 373.95,46.86C376.04,46.90 378.14,46.93 380.24,46.96C382.34,47.00 384.44,47.03 386.54,47.08C388.63,47.12 390.73,47.17 392.82,47.25C394.90,47.33 396.99,47.42 399.06,47.54C401.14,47.67 403.20,47.82 405.25,48.01C407.31,48.21 409.35,48.43 411.37,48.72C413.39,49.00 415.40,49.32 417.39,49.71C419.38,50.10 421.35,50.54 423.30,51.05C425.24,51.56 427.17,52.14 429.06,52.80C430.96,53.45 432.84,54.18 434.66,55.00C436.49,55.81 438.29,56.70 440.00,57.67C441.72,58.65 443.39,59.70 444.95,60.83C446.51,61.96 448.00,63.17 449.38,64.45C450.77,65.73 452.06,67.10 453.27,68.51C454.48,69.93 455.60,71.42 456.66,72.96C457.72,74.49 458.70,76.09 459.62,77.72C460.54,79.35 461.39,81.04 462.20,82.74C463.01,84.45 463.75,86.20 464.46,87.96C465.16,89.72 465.82,91.51 466.45,93.31C467.08,95.10 467.66,96.92 468.23,98.73C468.80,100.54 469.33,102.36 469.86,104.17C470.38,105.98 470.88,107.79 471.36,109.60C471.85,111.41 472.32,113.21 472.77,115.02C473.22,116.82 473.66,118.62 474.09,120.42C474.52,122.23 474.93,124.03 475.34,125.82C475.74,127.62 476.14,129.42 476.53,131.22C476.92,133.02 477.31,134.82 477.69,136.61C478.07,138.41 478.45,140.21 478.82,142.01C479.20,143.80 479.58,145.60 479.96,147.40C480.34,149.20 480.72,150.99 481.10,152.79C481.49,154.59 481.87,156.39 482.27,158.19C482.66,159.99 483.06,161.79 483.46,163.59C483.86,165.39 484.26,167.19 484.67,168.99C485.08,170.79 485.49,172.59 485.91,174.39C486.33,176.19 486.76,177.99 487.18,179.79C487.61,181.59 488.05,183.39 488.48,185.19C488.92,186.99 489.37,188.79 489.81,190.58C490.26,192.38 490.72,194.18 491.18,195.97C491.64,197.77 492.10,199.56 492.58,201.36C493.05,203.15 493.53,204.94 494.01,206.73C494.49,208.53 494.98,210.32 495.48,212.10C495.98,213.89 496.48,215.68 496.99,217.46C497.50,219.25 498.01,221.03 498.54,222.81C499.06,224.60 499.59,226.37 500.13,228.15C500.66,229.93 501.21,231.71 501.76,233.48C502.31,235.25 502.87,237.02 503.43,238.79C504.00,240.56 504.57,242.33 505.15,244.09C505.74,245.85 506.32,247.61 506.92,249.37C507.52,251.13 508.12,252.89 508.74,254.64C509.35,256.39 509.97,258.14 510.60,259.88C511.23,261.63 511.87,263.37 512.52,265.11C513.17,266.85 513.82,268.59 514.49,270.32C515.15,272.06 515.83,273.79 516.51,275.52C517.19,277.25 517.89,278.98 518.59,280.71C519.29,282.44 520.00,284.17 520.72,285.91C521.44,287.64 522.17,289.37 522.90,291.10C523.64,292.84 524.39,294.57 525.15,296.31C525.90,298.05 526.66,299.79 527.45,301.53C528.23,303.27 529.01,305.02 529.84,306.74C530.66,308.46 531.50,310.17 532.40,311.85C533.30,313.52 534.22,315.18 535.21,316.77C536.21,318.37 537.25,319.94 538.37,321.44C539.49,322.93 540.66,324.39 541.93,325.75C543.21,327.12 544.56,328.42 546.00,329.64C547.43,330.85 548.96,331.99 550.56,333.05C552.15,334.11 553.84,335.09 555.58,335.99C557.32,336.90 559.13,337.72 560.99,338.48C562.85,339.24 564.77,339.93 566.72,340.58C568.67,341.22 570.67,341.80 572.68,342.35C574.69,342.90 576.74,343.39 578.79,343.86C580.84,344.33 582.91,344.76 584.97,345.17C587.03,345.59 589.09,345.98 591.14,346.35C593.19,346.72 595.24,347.07 597.28,347.41C599.32,347.74 601.36,348.06 603.40,348.36C605.44,348.66 607.47,348.95 609.51,349.22C611.54,349.49 613.57,349.75 615.61,349.99C617.64,350.24 619.67,350.47 621.70,350.69C623.73,350.91 625.76,351.12 627.79,351.31C629.83,351.51 631.86,351.70 633.90,351.88C635.93,352.07 637.97,352.24 640.01,352.41C642.05,352.57 644.09,352.73 646.14,352.89C648.19,353.04 650.24,353.19 652.30,353.34C654.35,353.49 656.41,353.63 658.48,353.77C660.55,353.92 663.66,354.13 664.70,354.20"/>
<path stroke="#00AA0A" d="M97.80,20.45C98.79,20.45 101.77,20.45 103.76,20.46C105.75,20.46 107.73,20.46 109.73,20.46C111.72,20.46 113.71,20.46 115.70,20.45C117.70,20.45 119.69,20.45 121.69,20.45C123.69,20.45 125.68,20.45 127.68,20.46C129.68,20.46 131.68,20.46 133.68,20.47C135.68,20.48 137.69,20.48 139.69,20.49C141.69,20.51 143.69,20.52 145.69,20.54C147.70,20.56 149.70,20.58 151.70,20.60C153.71,20.63 155.71,20.66 157.72,20.69C159.72,20.72 161.72,20.76 163.73,20.81C165.73,20.85 167.73,20.90 169.74,20.96C171.74,21.02 173.74,21.08 175.74,21.15C177.75,21.22 179.75,21.30 181.75,21.38C183.75,21.47 185.75,21.56 187.75,21.66C189.74,21.76 191.74,21.87 193.74,21.99C195.73,22.10 197.73,22.23 199.72,22.37C201.72,22.50 203.71,22.65 205.70,22.80C207.69,22.96 209.68,23.13 211.66,23.31C213.65,23.48 215.64,23.67 217.62,23.87C219.60,24.07 221.58,24.29 223.56,24.51C225.54,24.74 227.52,24.97 229.49,25.22C231.46,25.47 233.44,25.74 235.41,26.01C237.37,26.29 239.34,26.58 241.30,26.89C243.27,27.19 245.23,27.51 247.19,27.85C249.14,28.18 251.10,28.53 253.05,28.90C255.00,29.26 256.95,29.65 258.89,30.04C260.84,30.44 262.78,30.85 264.72,31.28C266.66,31.70 268.59,32.14 270.53,32.59C272.46,33.03 274.39,33.49 276.32,33.96C278.25,34.43 280.18,34.90 282.10,35.39C284.03,35.87 285.96,36.36 287.88,36.86C289.80,37.35 291.73,37.85 293.65,38.36C295.57,38.86 297.49,39.37 299.41,39.87C301.33,40.38 303.26,40.89 305.18,41.40C307.10,41.90 309.02,42.41 310.94,42.92C312.86,43.42 314.78,43.92 316.71,44.42C318.63,44.91 320.55,45.41 322.48,45.89C324.40,46.38 326.33,46.86 328.26,47.33C330.19,47.79 332.12,48.26 334.05,48.71C335.98,49.16 337.91,49.60 339.85,50.02C341.79,50.45 343.73,50.87 345.67,51.27C347.61,51.67 349.55,52.05 351.50,52.42C353.45,52.79 355.40,53.15 357.36,53.49C359.31,53.83 361.27,54.15 363.23,54.46C365.19,54.77 367.15,55.07 369.12,55.35C371.08,55.64 373.05,55.91 375.02,56.17C376.99,56.43 378.97,56.68 380.94,56.91C382.92,57.15 384.90,57.38 386.88,57.59C388.86,57.81 390.85,58.01 392.83,58.21C394.82,58.41 396.81,58.60 398.80,58.78C400.79,58.96 402.78,59.13 404.78,59.29C406.78,59.46 408.77,59.62 410.77,59.77C412.77,59.92 414.77,60.07 416.78,60.21C418.78,60.35 420.79,60.49 422.79,60.62C424.80,60.75 426.81,60.87 428.82,61.01C430.83,61.14 432.84,61.26 434.84,61.41C436.85,61.56 438.85,61.70 440.85,61.89C442.85,62.07 444.84,62.26 446.82,62.50C448.80,62.74 450.78,63.00 452.74,63.31C454.70,63.62 456.66,63.96 458.59,64.37C460.53,64.78 462.45,65.23 464.35,65.75C466.25,66.27 468.15,66.85 470.00,67.50C471.86,68.14 473.70,68.85 475.49,69.63C477.28,70.41 479.04,71.25 480.74,72.16C482.45,73.07 484.11,74.05 485.71,75.09C487.30,76.13 488.85,77.24 490.31,78.42C491.78,79.60 493.18,80.85 494.49,82.17C495.80,83.48 497.04,84.88 498.18,86.33C499.33,87.78 500.38,89.31 501.37,90.88C502.35,92.44 503.25,94.08 504.10,95.73C504.95,97.38 505.73,99.07 506.46,100.78C507.20,102.48 507.87,104.21 508.52,105.93C509.17,107.66 509.77,109.39 510.34,111.11C510.92,112.83 511.46,114.55 511.97,116.27C512.49,117.99 512.98,119.70 513.45,121.42C513.92,123.14 514.37,124.85 514.81,126.57C515.24,128.29 515.66,130.00 516.07,131.72C516.48,133.44 516.88,135.16 517.28,136.89C517.68,138.61 518.07,140.34 518.47,142.07C518.86,143.80 519.26,145.54 519.66,147.28C520.07,149.02 520.48,150.77 520.90,152.52C521.33,154.27 521.76,156.02 522.20,157.78C522.64,159.54 523.09,161.31 523.54,163.07C523.99,164.84 524.45,166.60 524.91,168.37C525.37,170.14 525.83,171.91 526.29,173.67C526.75,175.44 527.22,177.20 527.67,178.97C528.13,180.73 528.59,182.49 529.04,184.25C529.49,186.00 529.94,187.75 530.38,189.50C530.82,191.24 531.25,192.98 531.68,194.72C532.11,196.46 532.53,198.19 532.96,199.91C533.38,201.64 533.80,203.36 534.22,205.08C534.64,206.80 535.06,208.52 535.48,210.23C535.90,211.95 536.33,213.66 536.75,215.37C537.18,217.08 537.61,218.78 538.04,220.49C538.48,222.19 538.92,223.90 539.37,225.60C539.81,227.30 540.27,229.00 540.73,230.70C541.20,232.41 541.67,234.11 542.15,235.81C542.64,237.51 543.13,239.21 543.64,240.91C544.15,242.62 544.67,244.32 545.21,246.02C545.74,247.73 546.29,249.43 546.86,251.14C547.43,252.85 548.01,254.56 548.62,256.28C549.22,257.99 549.84,259.71 550.48,261.42C551.13,263.14 551.79,264.87 552.47,266.59C553.16,268.31 553.87,270.04 554.60,271.76C555.34,273.48 556.09,275.19 556.88,276.89C557.67,278.60 558.48,280.29 559.33,281.97C560.18,283.64 561.05,285.31 561.96,286.95C562.87,288.59 563.81,290.21 564.79,291.81C565.77,293.40 566.78,294.97 567.83,296.51C568.88,298.04 569.97,299.55 571.10,301.02C572.23,302.49 573.40,303.93 574.61,305.32C575.83,306.71 577.08,308.06 578.38,309.37C579.68,310.67 581.03,311.93 582.43,313.14C583.82,314.34 585.26,315.50 586.76,316.60C588.25,317.69 589.79,318.74 591.39,319.71C592.99,320.69 594.64,321.61 596.34,322.46C598.05,323.31 599.82,324.08 601.63,324.80C603.44,325.52 605.31,326.17 607.20,326.78C609.09,327.39 611.03,327.94 612.98,328.47C614.93,329.00 616.91,329.48 618.89,329.95C620.87,330.43 622.87,330.86 624.85,331.30C626.84,331.75 628.83,332.17 630.79,332.60C632.74,333.04 634.70,333.47 636.61,333.93C638.52,334.39 640.39,334.87 642.26,335.36C644.12,335.86 645.95,336.38 647.79,336.93C649.63,337.47 651.45,338.04 653.31,338.64C655.16,339.24 657.01,339.87 658.91,340.52C660.81,341.18 663.73,342.25 664.70,342.59"/>
</g>
<g stroke="#000" stroke-width="3.3" fill="none">
<rect x="80.0" y="2.1" width="602.7" height="440.29999999999995"/>
<line x1="71.0" y1="442.4" x2="80.0" y2="442.4"/>
<line x1="71.0" y1="358.5" x2="80.0" y2="358.5"/>
<line x1="71.0" y1="274.6" x2="80.0" y2="274.6"/>
<line x1="71.0" y1="190.8" x2="80.0" y2="190.8"/>
<line x1="71.0" y1="106.9" x2="80.0" y2="106.9"/>
<line x1="71.0" y1="23.0" x2="80.0" y2="23.0"/>
<line x1="75.5" y1="400.5" x2="80.0" y2="400.5"/>
<line x1="75.5" y1="316.6" x2="80.0" y2="316.6"/>
<line x1="75.5" y1="232.7" x2="80.0" y2="232.7"/>
<line x1="75.5" y1="148.8" x2="80.0" y2="148.8"/>
<line x1="75.5" y1="64.9" x2="80.0" y2="64.9"/>
<line x1="127.5" y1="442.4" x2="127.5" y2="450.9"/>
<line x1="187.2" y1="442.4" x2="187.2" y2="450.9"/>
<line x1="246.9" y1="442.4" x2="246.9" y2="450.9"/>
<line x1="306.6" y1="442.4" x2="306.6" y2="450.9"/>
<line x1="366.2" y1="442.4" x2="366.2" y2="450.9"/>
<line x1="425.9" y1="442.4" x2="425.9" y2="450.9"/>
<line x1="485.6" y1="442.4" x2="485.6" y2="450.9"/>
<line x1="545.3" y1="442.4" x2="545.3" y2="450.9"/>
<line x1="605.0" y1="442.4" x2="605.0" y2="450.9"/>
<line x1="664.7" y1="442.4" x2="664.7" y2="450.9"/>
<line x1="97.6" y1="442.4" x2="97.6" y2="446.9"/>
<line x1="157.3" y1="442.4" x2="157.3" y2="446.9"/>
<line x1="217.0" y1="442.4" x2="217.0" y2="446.9"/>
<line x1="276.7" y1="442.4" x2="276.7" y2="446.9"/>
<line x1="336.4" y1="442.4" x2="336.4" y2="446.9"/>
<line x1="396.1" y1="442.4" x2="396.1" y2="446.9"/>
<line x1="455.8" y1="442.4" x2="455.8" y2="446.9"/>
<line x1="515.5" y1="442.4" x2="515.5" y2="446.9"/>
<line x1="575.2" y1="442.4" x2="575.2" y2="446.9"/>
<line x1="634.9" y1="442.4" x2="634.9" y2="446.9"/>
</g>
<g font-family="'Liberation Serif', serif" font-weight="bold" fill="#000" style="font-kerning:none">
<text x="65.3" y="449.9" font-size="25" text-anchor="end">0</text>
<text x="65.3" y="366.0" font-size="25" text-anchor="end">20</text>
<text x="65.3" y="282.1" font-size="25" text-anchor="end">40</text>
<text x="65.3" y="198.3" font-size="25" text-anchor="end">60</text>
<text x="65.3" y="114.4" font-size="25" text-anchor="end">80</text>
<text x="65.3" y="30.5" font-size="25" text-anchor="end">100</text>
<text x="127.5" y="477.7" font-size="25" text-anchor="middle">50</text>
<text x="187.2" y="477.7" font-size="25" text-anchor="middle">100</text>
<text x="246.9" y="477.7" font-size="25" text-anchor="middle">150</text>
<text x="306.6" y="477.7" font-size="25" text-anchor="middle">200</text>
<text x="366.2" y="477.7" font-size="25" text-anchor="middle">250</text>
<text x="425.9" y="477.7" font-size="25" text-anchor="middle">300</text>
<text x="485.6" y="477.7" font-size="25" text-anchor="middle">350</text>
<text x="545.3" y="477.7" font-size="25" text-anchor="middle">400</text>
<text x="605.0" y="477.7" font-size="25" text-anchor="middle">450</text>
<text x="664.7" y="477.7" font-size="25" text-anchor="middle">500</text>
<text x="273.8" y="515.3" font-size="29.2">Temperature <tspan font-size="24.5">(°C)</tspan></text>
<text transform="translate(19.8,318.2) rotate(-90)" font-size="29">Weight loss <tspan font-size="24.5">(%)</tspan></text>
<line x1="125.2" y1="109.2" x2="149.6" y2="109.2" stroke="#5B2D86" stroke-width="6.2" stroke-linecap="round"/>
<text x="161.9" y="115.0" font-size="17.6">Epoxy</text>
<line x1="125.2" y1="131.5" x2="149.6" y2="131.5" stroke="#FFB6C1" stroke-width="6.2" stroke-linecap="round"/>
<text x="161.9" y="137.3" font-size="17.6">1Zn</text>
<line x1="125.2" y1="153.8" x2="149.6" y2="153.8" stroke="#FF0000" stroke-width="6.2" stroke-linecap="round"/>
<text x="161.9" y="159.6" font-size="17.6">2Zn</text>
<line x1="125.2" y1="176.0" x2="149.6" y2="176.0" stroke="#C00000" stroke-width="6.2" stroke-linecap="round"/>
<text x="161.9" y="181.8" font-size="17.6">5Zn</text>
<line x1="125.2" y1="198.3" x2="149.6" y2="198.3" stroke="#7FD8F8" stroke-width="6.2" stroke-linecap="round"/>
<text x="161.9" y="204.1" font-size="17.6">1.25C</text>
<line x1="125.2" y1="220.6" x2="149.6" y2="220.6" stroke="#29A8E0" stroke-width="6.2" stroke-linecap="round"/>
<text x="161.9" y="226.4" font-size="17.6">2.5C</text>
<line x1="125.2" y1="242.9" x2="149.6" y2="242.9" stroke="#0000FF" stroke-width="6.2" stroke-linecap="round"/>
<text x="161.9" y="248.7" font-size="17.6">3.75C</text>
<line x1="125.2" y1="265.2" x2="149.6" y2="265.2" stroke="#00AA0A" stroke-width="6.2" stroke-linecap="round"/>
<text x="161.9" y="271.0" font-size="17.6">2Zn2.5C</text>
</g>
<clipPath id="ic"><rect x="114.1" y="287.8" width="175.00000000000003" height="120.5"/></clipPath>
<rect x="114.1" y="287.8" width="175.00000000000003" height="120.5" fill="#fff"/>
<g clip-path="url(#ic)" fill="none" stroke-width="5.0" stroke-linejoin="round">
<path d="M119.8,269.7 L123.5,281.8 L127.2,293.8 L131.0,305.9 L134.7,317.9 L138.5,330.0 L142.2,342.0 L146.0,354.1 L149.7,366.1 L153.5,378.2 L157.2,390.2 L161.0,402.3 L164.7,414.3 L168.4,426.4" stroke="#5B2D86"/>
<path d="M178.3,269.7 L183.1,281.8 L187.9,293.8 L192.7,305.9 L197.6,317.9 L202.4,330.0 L207.3,342.0 L212.2,354.1 L217.1,366.1 L222.1,378.2 L227.0,390.2 L232.0,402.3 L237.0,414.3 L242.0,426.4" stroke="#FF8080"/>
<path d="M210.4,269.7 L215.4,281.8 L220.4,293.8 L225.4,305.9 L230.4,317.9 L235.3,330.0 L240.3,342.0 L245.3,354.1 L250.2,366.1 L255.2,378.2 L260.1,390.2 L265.1,402.3 L270.0,414.3 L274.9,426.4" stroke="#FF2020"/>
<path d="M216.6,269.7 L221.6,281.8 L226.6,293.8 L231.7,305.9 L236.7,317.9 L241.7,330.0 L246.7,342.0 L251.8,354.1 L256.8,366.1 L261.8,378.2 L266.8,390.2 L271.8,402.3 L276.8,414.3 L281.8,426.4" stroke="#C00000"/>
<path d="M119.7,269.7 L125.4,281.8 L131.4,293.8 L137.4,305.9 L143.7,317.9 L150.1,330.0 L156.6,342.0 L163.4,354.1 L170.3,366.1 L177.3,378.2 L184.5,390.2 L191.9,402.3 L199.4,414.3 L207.1,426.4" stroke="#7FD8F8"/>
<path d="M134.2,269.7 L140.0,281.8 L145.9,293.8 L151.9,305.9 L158.1,317.9 L164.3,330.0 L170.7,342.0 L177.1,354.1 L183.7,366.1 L190.4,378.2 L197.2,390.2 L204.1,402.3 L211.2,414.3 L218.3,426.4" stroke="#29A8E0"/>
<path d="M120.8,269.7 L129.2,281.8 L138.0,293.8 L147.2,305.9 L156.8,317.9 L166.8,330.0 L177.2,342.0 L188.0,354.1 L199.2,366.1 L210.8,378.2 L222.8,390.2 L235.2,402.3 L247.9,414.3 L261.1,426.4" stroke="#0000FF"/>
<path d="M173.9,269.7 L177.8,281.8 L181.8,293.8 L185.8,305.9 L189.8,317.9 L193.9,330.0 L197.9,342.0 L202.0,354.1 L206.1,366.1 L210.2,378.2 L214.3,390.2 L218.4,402.3 L222.6,414.3 L226.7,426.4" stroke="#00AA0A"/>
</g>
<g stroke="#000" stroke-width="2.3" fill="none">
<rect x="114.1" y="287.8" width="175.00000000000003" height="120.5"/>
<line x1="133.5" y1="408.3" x2="133.5" y2="410.8"/>
<line x1="172.4" y1="408.3" x2="172.4" y2="410.8"/>
<line x1="211.3" y1="408.3" x2="211.3" y2="410.8"/>
<line x1="250.2" y1="408.3" x2="250.2" y2="410.8"/>
<line x1="289.1" y1="408.3" x2="289.1" y2="410.8"/>
<line x1="111.6" y1="408.3" x2="114.1" y2="408.3"/>
<line x1="111.6" y1="287.8" x2="114.1" y2="287.8"/>
</g>
<g font-family="'Liberation Serif', serif" font-weight="bold" fill="#000" font-size="17.3" style="font-kerning:none">
<text x="133.5" y="426.2" text-anchor="middle">180</text>
<text x="172.4" y="426.2" text-anchor="middle">190</text>
<text x="211.3" y="426.2" text-anchor="middle">200</text>
<text x="250.2" y="426.2" text-anchor="middle">210</text>
<text x="289.1" y="426.2" text-anchor="middle">220</text>
<text x="109.4" y="293.4" text-anchor="end">95</text>
<text x="109.4" y="413.9" text-anchor="end">94</text>
</g>
</svg>
</body></html>
